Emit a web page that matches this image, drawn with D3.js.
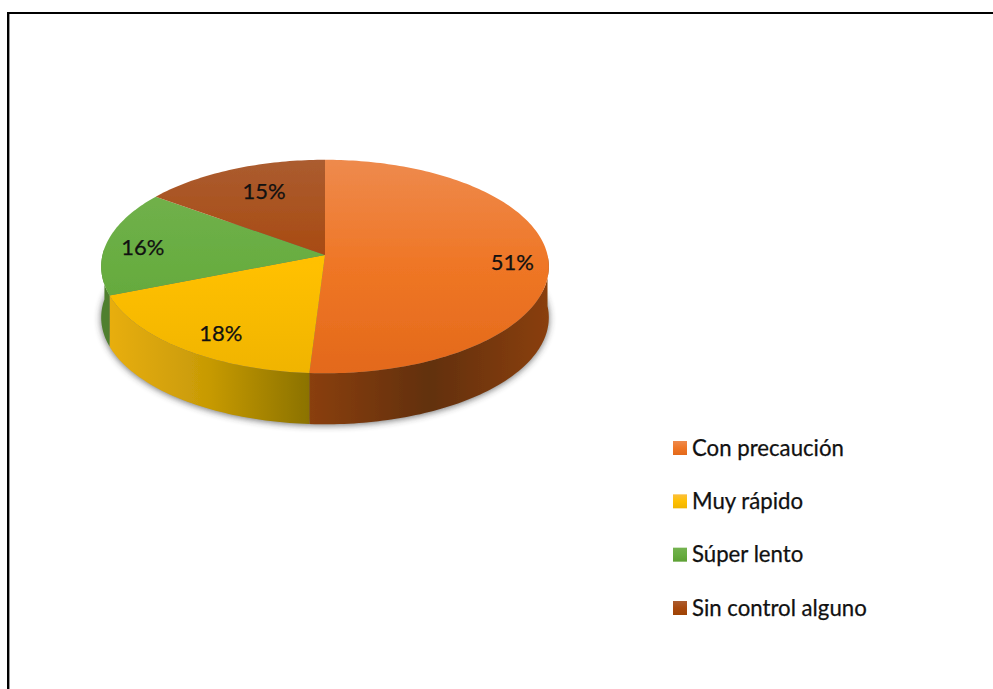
<!DOCTYPE html>
<html>
<head>
<meta charset="utf-8">
<script src="https://cdnjs.cloudflare.com/ajax/libs/d3/7.8.5/d3.min.js"></script>
<style>
  html, body { margin: 0; padding: 0; background: #fff; }
  svg { display: block; }
  text { font-family: Lato, "Open Sans", sans-serif; fill: #111; stroke: #111; stroke-width: 0.25px; }
</style>
</head>
<body>
<div id="chart"></div>
<script>
/* ################ data ################ */
var categories = ["Con precaución", "Muy rápido", "Súper lento", "Sin control alguno"];
var percents = [51, 18, 16, 15];

// colours: [top of slice light, mid, bottom]
var topColors = [
  ["#ee8a4d", "#ef7625", "#e3691b"],
  ["#fbbf3c", "#ffc000", "#f0b400"],
  ["#74b24f", "#68ad41", "#5da034"],
  ["#ab5c30", "#a8490e", "#9e4304"]
];
var wallColors = [
  ["#8a3f0b", "#62300f", "#8a3f0b"],
  ["#e8ae10", "#c79a05", "#8b7200"],
  ["#4f7f2d", "#4f7f2d", "#4f7f2d"],
  ["#6e330a", "#6e330a", "#6e330a"]
];
// where the percent label sits in each slice
var labelRadius = [0.84, 0.745, 0.835, 0.64];
var labelShift = [5, 10, 3, -7];

/* ################ layout ################ */
var width = 993, height = 689;
var cx = 325, cy = 255;     // pie centre as drawn on the tilted disc
var rx = 222.5, ry = 105.5;
var tilt = 0.108;           // perspective, the near edge is bigger
var depth = 51;

var svg = d3.select("#chart").append("svg")
  .attr("width", width)
  .attr("height", height);

var defs = svg.append("defs");

defs.append("filter").attr("id", "soft")
  .attr("x", "-10%").attr("y", "-10%").attr("width", "120%").attr("height", "130%")
  .append("feGaussianBlur").attr("stdDeviation", 3.5);

defs.append("filter").attr("id", "edge")
  .append("feGaussianBlur").attr("stdDeviation", 0.6);

// projects a point of the unit disc to the page
function project(angle, r, drop) {
  var u = Math.sin(angle) * r;
  var v = -Math.cos(angle) * r;
  var d = 1 - tilt * v;
  return [cx + rx * u / d, cy + ry * v / d + (drop || 0)];
}

function arcPoints(a0, a1, drop) {
  var n = Math.max(2, Math.ceil((a1 - a0) / 0.02));
  return d3.range(n + 1).map(function(i) {
    return project(a0 + (a1 - a0) * i / n, 1, drop);
  });
}

var line = d3.line();

var slices = d3.pie().sort(null)(percents);

// frame, only left and top edges show in the crop
svg.append("path")
  .attr("d", "M9.5,689V14")
  .attr("fill", "none")
  .attr("stroke", "#999")
  .attr("stroke-width", 1);

svg.append("path")
  .attr("d", "M8,689V13H993")
  .attr("fill", "none")
  .attr("stroke", "#000")
  .attr("stroke-width", 2);

// shadow under the pie
svg.append("path")
  .attr("d", line(arcPoints(0, 2 * Math.PI, depth + 1)) + "Z")
  .attr("fill", "#333")
  .attr("opacity", 0.7)
  .attr("filter", "url(#soft)");

var pie = svg.append("g").attr("filter", "url(#edge)");

// side wall, the arcs facing the viewer only
var wallFrom = Math.PI / 2;
var wallTo = Math.PI * 1.52;

slices.forEach(function(s, i) {
  var a0 = Math.max(s.startAngle, wallFrom);
  var a1 = Math.min(s.endAngle, wallTo);
  if (a1 <= a0) return;
  var topArc = arcPoints(a0, a1, 0);
  var lowArc = arcPoints(a0, a1, depth).reverse();
  var x0 = d3.min(topArc, function(p) { return p[0]; });
  var x1 = d3.max(topArc, function(p) { return p[0]; });
  var gid = "wall" + i;
  var g = defs.append("linearGradient").attr("id", gid)
    .attr("gradientUnits", "userSpaceOnUse")
    .attr("x1", x0).attr("x2", x1).attr("y1", 0).attr("y2", 0);
  wallColors[i].forEach(function(c, k) {
    g.append("stop").attr("offset", k / 2).attr("stop-color", c);
  });
  pie.append("path")
    .attr("d", line(topArc.concat(lowArc)) + "Z")
    .attr("fill", "url(#" + gid + ")");
});

// top of each slice
slices.forEach(function(s, i) {
  var gid = "top" + i;
  var g = defs.append("linearGradient").attr("id", gid)
    .attr("gradientUnits", "userSpaceOnUse")
    .attr("x1", 0).attr("x2", 0)
    .attr("y1", cy - ry * 0.9).attr("y2", cy + ry * 1.12);
  topColors[i].forEach(function(c, k) {
    g.append("stop").attr("offset", k / 2).attr("stop-color", c);
  });
  var pts = [[cx, cy]].concat(arcPoints(s.startAngle, s.endAngle, 0));
  pie.append("path")
    .attr("d", line(pts) + "Z")
    .attr("fill", "url(#" + gid + ")");
});

// percent labels
slices.forEach(function(s, i) {
  var p = project((s.startAngle + s.endAngle) / 2, labelRadius[i], labelShift[i]);
  svg.append("text")
    .attr("x", p[0])
    .attr("y", p[1])
    .attr("dy", "0.35em")
    .attr("text-anchor", "middle")
    .style("font-size", "22px")
    .text(percents[i] + "%");
});

// legend
var legendY = d3.scalePoint().domain(categories).range([448, 608]);

categories.forEach(function(name, i) {
  var y = legendY(name);
  var g = defs.append("linearGradient").attr("id", "key" + i)
    .attr("x1", 0).attr("x2", 0).attr("y1", 0).attr("y2", 1);
  topColors[i].forEach(function(c, k) {
    g.append("stop").attr("offset", k / 2).attr("stop-color", c);
  });
  svg.append("rect")
    .attr("x", 673).attr("y", y - 7)
    .attr("width", 14).attr("height", 14)
    .attr("fill", "url(#key" + i + ")");
  svg.append("text")
    .attr("x", 692)
    .attr("y", y)
    .attr("dy", "0.35em")
    .style("font-size", "22.2px")
    .text(name);
});
</script>
</body>
</html>
